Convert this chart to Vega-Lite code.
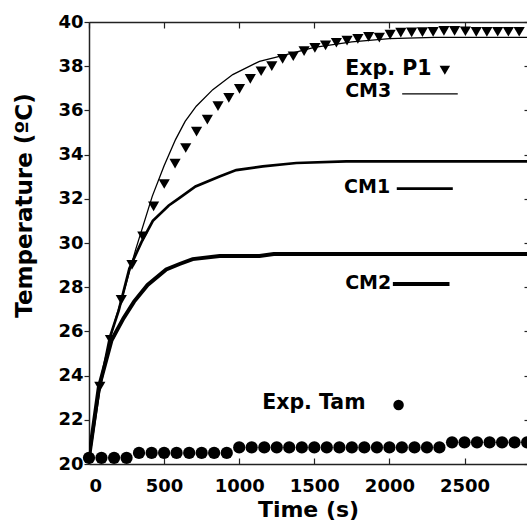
{
  "$schema": "https://vega.github.io/schema/vega-lite/v6.json",
  "autosize": {"type": "none"},
  "padding": {"left": 89, "top": 22, "right": 0, "bottom": 57},
  "width": 438,
  "height": 442,
  "background": "white",
  "config": {
    "view": {"stroke": null},
    "font": "DejaVu Sans",
    "axis": {"grid": false, "domainColor": "#222", "tickColor": "#222", "domainWidth": 1.5, "tickWidth": 1.2, "labelColor": "black", "titleColor": "black", "labelFont": "DejaVu Sans", "titleFont": "DejaVu Sans", "labelFontWeight": "bold", "titleFontWeight": "bold", "labelFontSize": 18, "titleFontSize": 22}
  },
  "datasets": {
    "cm": [
      {"series": "CM3", "t": 0, "T": 20.3}, {"series": "CM3", "t": 71, "T": 23.45}, {"series": "CM3", "t": 140, "T": 25.65}, {"series": "CM3", "t": 176, "T": 26.55}, {"series": "CM3", "t": 243, "T": 28.05}, {"series": "CM3", "t": 310, "T": 29.69}, {"series": "CM3", "t": 421, "T": 32.11}, {"series": "CM3", "t": 500, "T": 33.5}, {"series": "CM3", "t": 576, "T": 34.68}, {"series": "CM3", "t": 640, "T": 35.5}, {"series": "CM3", "t": 714, "T": 36.19}, {"series": "CM3", "t": 824, "T": 36.94}, {"series": "CM3", "t": 957, "T": 37.62}, {"series": "CM3", "t": 1135, "T": 38.22}, {"series": "CM3", "t": 1268, "T": 38.45}, {"series": "CM3", "t": 1500, "T": 38.85}, {"series": "CM3", "t": 1750, "T": 39.1}, {"series": "CM3", "t": 2000, "T": 39.25}, {"series": "CM3", "t": 2300, "T": 39.3}, {"series": "CM3", "t": 2950, "T": 39.3},
      {"series": "CM1", "t": 0, "T": 20.3}, {"series": "CM1", "t": 71, "T": 23.45}, {"series": "CM1", "t": 140, "T": 25.75}, {"series": "CM1", "t": 198, "T": 26.95}, {"series": "CM1", "t": 269, "T": 28.85}, {"series": "CM1", "t": 350, "T": 30.05}, {"series": "CM1", "t": 425, "T": 31.0}, {"series": "CM1", "t": 531, "T": 31.7}, {"series": "CM1", "t": 603, "T": 32.04}, {"series": "CM1", "t": 709, "T": 32.56}, {"series": "CM1", "t": 869, "T": 33.01}, {"series": "CM1", "t": 980, "T": 33.3}, {"series": "CM1", "t": 1157, "T": 33.47}, {"series": "CM1", "t": 1380, "T": 33.62}, {"series": "CM1", "t": 1712, "T": 33.69}, {"series": "CM1", "t": 2950, "T": 33.69},
      {"series": "CM2", "t": 0, "T": 20.3}, {"series": "CM2", "t": 65, "T": 23.45}, {"series": "CM2", "t": 150, "T": 25.6}, {"series": "CM2", "t": 230, "T": 26.6}, {"series": "CM2", "t": 300, "T": 27.35}, {"series": "CM2", "t": 390, "T": 28.1}, {"series": "CM2", "t": 514, "T": 28.8}, {"series": "CM2", "t": 603, "T": 29.05}, {"series": "CM2", "t": 690, "T": 29.27}, {"series": "CM2", "t": 870, "T": 29.41}, {"series": "CM2", "t": 1135, "T": 29.41}, {"series": "CM2", "t": 1230, "T": 29.5}, {"series": "CM2", "t": 2950, "T": 29.5}
    ],
    "p1": [
      {"t": 72, "T": 23.5}, {"t": 143, "T": 25.62}, {"t": 215, "T": 27.43}, {"t": 286, "T": 29.01}, {"t": 358, "T": 30.3}, {"t": 430, "T": 31.66}, {"t": 501, "T": 32.67}, {"t": 573, "T": 33.59}, {"t": 644, "T": 34.3}, {"t": 716, "T": 35.04}, {"t": 788, "T": 35.58}, {"t": 859, "T": 36.19}, {"t": 931, "T": 36.57}, {"t": 1002, "T": 36.97}, {"t": 1074, "T": 37.43}, {"t": 1146, "T": 37.77}, {"t": 1217, "T": 38.0}, {"t": 1289, "T": 38.33}, {"t": 1360, "T": 38.45}, {"t": 1432, "T": 38.68}, {"t": 1504, "T": 38.83}, {"t": 1575, "T": 38.94}, {"t": 1647, "T": 39.06}, {"t": 1718, "T": 39.16}, {"t": 1790, "T": 39.24}, {"t": 1862, "T": 39.33}, {"t": 1933, "T": 39.29}, {"t": 2005, "T": 39.43}, {"t": 2076, "T": 39.52}, {"t": 2148, "T": 39.53}, {"t": 2220, "T": 39.54}, {"t": 2291, "T": 39.55}, {"t": 2363, "T": 39.6}, {"t": 2434, "T": 39.6}, {"t": 2506, "T": 39.58}, {"t": 2578, "T": 39.55}, {"t": 2649, "T": 39.55}, {"t": 2721, "T": 39.56}, {"t": 2792, "T": 39.56}, {"t": 2864, "T": 39.56}
    ],
    "tam": [
      {"t": 0, "T": 20.28}, {"t": 83, "T": 20.28}, {"t": 167, "T": 20.28}, {"t": 250, "T": 20.28},
      {"t": 333, "T": 20.5}, {"t": 417, "T": 20.5}, {"t": 500, "T": 20.5}, {"t": 583, "T": 20.5}, {"t": 667, "T": 20.5}, {"t": 750, "T": 20.5}, {"t": 833, "T": 20.5}, {"t": 917, "T": 20.5},
      {"t": 1000, "T": 20.75}, {"t": 1083, "T": 20.75}, {"t": 1167, "T": 20.75}, {"t": 1250, "T": 20.75}, {"t": 1333, "T": 20.75}, {"t": 1417, "T": 20.75}, {"t": 1500, "T": 20.75}, {"t": 1583, "T": 20.75}, {"t": 1667, "T": 20.75}, {"t": 1750, "T": 20.75}, {"t": 1833, "T": 20.75}, {"t": 1917, "T": 20.75}, {"t": 2000, "T": 20.75}, {"t": 2083, "T": 20.75}, {"t": 2167, "T": 20.75}, {"t": 2250, "T": 20.75}, {"t": 2333, "T": 20.75},
      {"t": 2417, "T": 20.98}, {"t": 2500, "T": 20.98}, {"t": 2583, "T": 20.98}, {"t": 2667, "T": 20.98}, {"t": 2750, "T": 20.98}, {"t": 2833, "T": 20.98}, {"t": 2917, "T": 20.98}
    ],
    "labels": [
      {"kind": "exp", "label": "Exp. P1", "t": 2280, "T": 37.89},
      {"kind": "cm", "label": "CM3", "t": 2012, "T": 36.87},
      {"kind": "cm", "label": "CM1", "t": 2005, "T": 32.55},
      {"kind": "cm", "label": "CM2", "t": 2012, "T": 28.19},
      {"kind": "exp", "label": "Exp. Tam", "t": 1841, "T": 22.76}
    ],
    "keys": [
      {"series": "CM3", "t": 2085, "t2": 2455, "T": 36.75},
      {"series": "CM1", "t": 2049, "t2": 2422, "T": 32.46},
      {"series": "CM2", "t": 2023, "t2": 2400, "T": 28.15}
    ],
    "keyP1": [{"t": 2369, "T": 37.82}],
    "keyTam": [{"t": 2061, "T": 22.67}]
  },
  "layer": [
    {
      "data": {"name": "cm"},
      "transform": [{"filter": "datum.series === 'CM3'"}],
      "mark": {"type": "line", "color": "black", "clip": true, "strokeWidth": 1.3},
      "encoding": {
        "x": {"field": "t", "type": "quantitative", "scale": {"domain": [0, 2916], "nice": false, "zero": false},
              "axis": {"orient": "bottom", "values": [0, 500, 1000, 1500, 2000, 2500], "format": "d", "tickSize": -6, "labelPadding": 19, "title": "Time (s)", "titlePadding": 4}},
        "y": {"field": "T", "type": "quantitative", "scale": {"domain": [20, 40], "nice": false, "zero": false},
              "axis": {"orient": "left", "values": [20, 22, 24, 26, 28, 30, 32, 34, 36, 38, 40], "tickSize": 5, "labelPadding": 1, "title": "Temperature (ºC)", "titleFontSize": 23, "titlePadding": 21, "titleY": 183}}
      }
    },
    {
      "data": {"name": "cm"},
      "transform": [{"filter": "datum.series === 'CM1'"}],
      "mark": {"type": "line", "color": "black", "clip": true, "strokeWidth": 2.7},
      "encoding": {
        "x": {"field": "t", "type": "quantitative", "axis": {"orient": "top", "labels": false, "tickSize": -6, "title": null, "values": [0, 500, 1000, 1500, 2000, 2500]}},
        "y": {"field": "T", "type": "quantitative", "axis": {"orient": "right", "labels": false, "tickSize": -3, "domain": false, "title": null, "values": [20, 22, 24, 26, 28, 30, 32, 34, 36, 38, 40]}}
      }
    },
    {
      "data": {"name": "cm"},
      "transform": [{"filter": "datum.series === 'CM2'"}],
      "mark": {"type": "line", "color": "black", "clip": true, "strokeWidth": 4},
      "encoding": {
        "x": {"field": "t", "type": "quantitative", "axis": null},
        "y": {"field": "T", "type": "quantitative", "axis": null}
      }
    },
    {
      "data": {"name": "p1"},
      "mark": {"type": "point", "shape": "triangle-down", "filled": true, "color": "black", "size": 125, "opacity": 1},
      "encoding": {
        "x": {"field": "t", "type": "quantitative", "axis": null},
        "y": {"field": "T", "type": "quantitative", "axis": null}
      }
    },
    {
      "data": {"name": "tam"},
      "mark": {"type": "circle", "color": "black", "size": 150, "opacity": 1},
      "encoding": {
        "x": {"field": "t", "type": "quantitative", "axis": null},
        "y": {"field": "T", "type": "quantitative", "axis": null}
      }
    },
    {
      "data": {"name": "labels"},
      "transform": [{"filter": "datum.kind === 'exp'"}],
      "mark": {"type": "text", "align": "right", "baseline": "middle", "font": "DejaVu Sans", "fontWeight": "bold", "fontSize": 20.5, "color": "black"},
      "encoding": {
        "x": {"field": "t", "type": "quantitative", "axis": null},
        "y": {"field": "T", "type": "quantitative", "axis": null},
        "text": {"field": "label"}
      }
    },
    {
      "data": {"name": "labels"},
      "transform": [{"filter": "datum.kind === 'cm'"}],
      "mark": {"type": "text", "align": "right", "baseline": "middle", "font": "DejaVu Sans", "fontWeight": "bold", "fontSize": 19, "color": "black"},
      "encoding": {
        "x": {"field": "t", "type": "quantitative", "axis": null},
        "y": {"field": "T", "type": "quantitative", "axis": null},
        "text": {"field": "label"}
      }
    },
    {
      "data": {"name": "keys"},
      "transform": [{"filter": "datum.series === 'CM3'"}],
      "mark": {"type": "rule", "color": "black", "strokeWidth": 1.3},
      "encoding": {
        "x": {"field": "t", "type": "quantitative", "axis": null},
        "x2": {"field": "t2"},
        "y": {"field": "T", "type": "quantitative", "axis": null}
      }
    },
    {
      "data": {"name": "keys"},
      "transform": [{"filter": "datum.series === 'CM1'"}],
      "mark": {"type": "rule", "color": "black", "strokeWidth": 2.7},
      "encoding": {
        "x": {"field": "t", "type": "quantitative", "axis": null},
        "x2": {"field": "t2"},
        "y": {"field": "T", "type": "quantitative", "axis": null}
      }
    },
    {
      "data": {"name": "keys"},
      "transform": [{"filter": "datum.series === 'CM2'"}],
      "mark": {"type": "rule", "color": "black", "strokeWidth": 4},
      "encoding": {
        "x": {"field": "t", "type": "quantitative", "axis": null},
        "x2": {"field": "t2"},
        "y": {"field": "T", "type": "quantitative", "axis": null}
      }
    },
    {
      "data": {"name": "keyP1"},
      "mark": {"type": "point", "shape": "triangle-down", "filled": true, "color": "black", "size": 110, "opacity": 1},
      "encoding": {
        "x": {"field": "t", "type": "quantitative", "axis": null},
        "y": {"field": "T", "type": "quantitative", "axis": null}
      }
    },
    {
      "data": {"name": "keyTam"},
      "mark": {"type": "circle", "color": "black", "size": 110, "opacity": 1},
      "encoding": {
        "x": {"field": "t", "type": "quantitative", "axis": null},
        "y": {"field": "T", "type": "quantitative", "axis": null}
      }
    }
  ]
}
